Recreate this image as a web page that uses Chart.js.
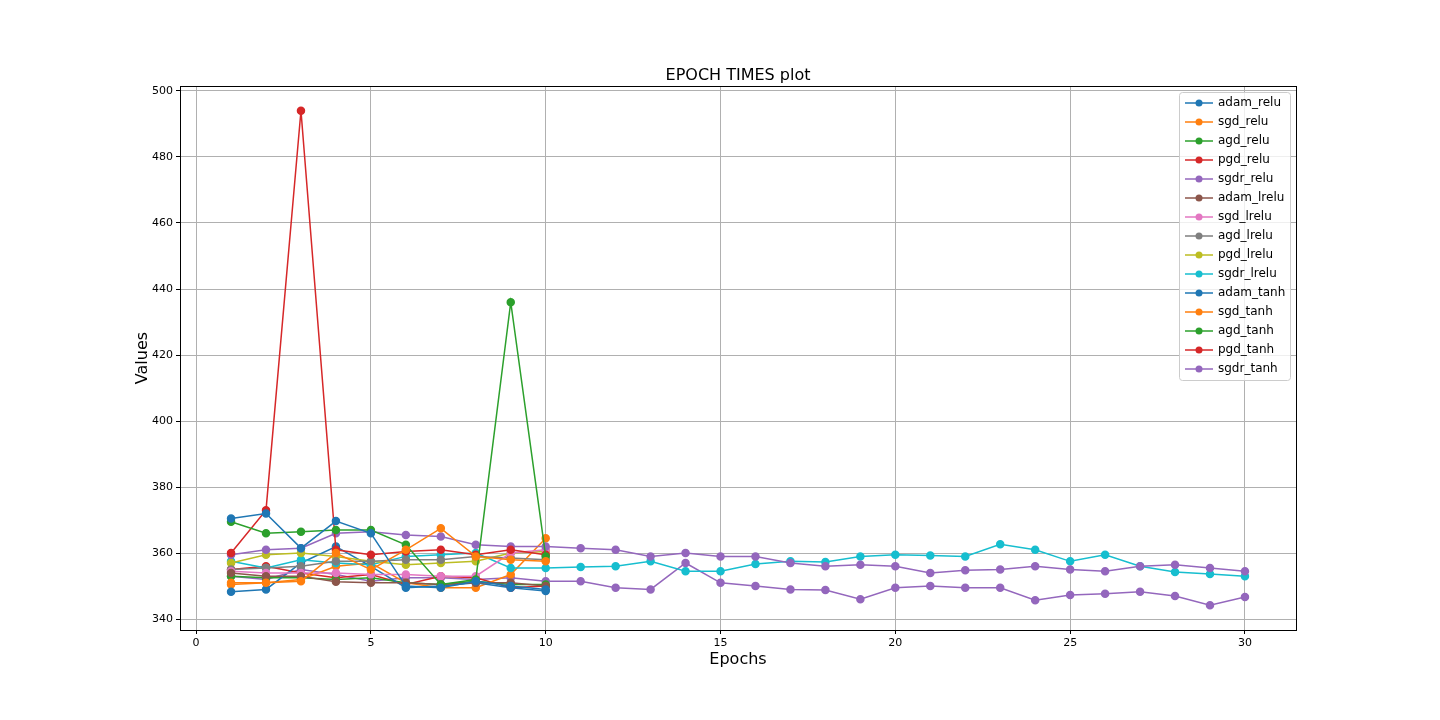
<!DOCTYPE html><html><head><script src="https://cdn.jsdelivr.net/npm/chart.js@4"></script>
<style>body{margin:0;background:#fff}#w{width:1440px;height:720px}</style></head><body><div id="w"><canvas id="c"></canvas></div>
<script>
const adam_relu=[370.5,372,361.5,369.7,366,350,349.5,351.5,350,349];
const sgd_relu=[351,351,351.5,360,355,361,367.5,359,358,357.5];
const agd_relu=[369.5,366,366.5,367,367,362.5,350.5,352,436,359];
const pgd_relu=[360,373,494,361,359.5,360.5,361,359.5,361,359.5];
const sgdr_relu=[359.5,361,361.5,366,366.5,365.5,365,362.5,362,362,361.5,361,359,360,359,359,357,356,356.5,356,354,354.8,355,356,355,354.5,356,356.5,355.5,354.5];
const adam_lrelu=[354,353,353,351.3,351,351,350.5,351,351,350];
const sgd_lrelu=[354.5,354,354,354,353.5,353.5,353,353,360,361];
const agd_lrelu=[355,355.5,356,357.5,357.5,358,358,359,358.5,358];
const pgd_lrelu=[357,359.5,360,359,357.5,356.5,357,357.5,360,360.5];
const sgdr_lrelu=[357.5,355.5,358,357,356.5,359,359.5,360,355.5,355.5,355.8,356,357.5,354.5,354.5,356.7,357.5,357.3,359,359.5,359.3,359,362.7,361,357.5,359.5,356,354.3,353.7,353];
const adam_tanh=[348.3,349,357,362,356,349.5,350,351,349.5,348.5];
const sgd_tanh=[350.5,351,352,356,357,351,349.5,349.5,353.5,364.5];
const agd_tanh=[353,352.5,352.5,352,352.5,351,350.5,351.5,350.5,350.5];
const pgd_tanh=[355,356,354,352.5,353.5,350.5,353,352.5,349.5,350];
const sgdr_tanh=[353,352,355,353.5,351.5,352.5,352.5,352,352.5,351.5,351.5,349.5,349,357,351,350,349,348.8,346,349.5,350,349.5,349.5,345.7,347.3,347.7,348.3,347,344.2,346.7];
const names=['adam_relu','sgd_relu','agd_relu','pgd_relu','sgdr_relu','adam_lrelu','sgd_lrelu','agd_lrelu','pgd_lrelu','sgdr_lrelu','adam_tanh','sgd_tanh','agd_tanh','pgd_tanh','sgdr_tanh'];
const series=[adam_relu,sgd_relu,agd_relu,pgd_relu,sgdr_relu,adam_lrelu,sgd_lrelu,agd_lrelu,pgd_lrelu,sgdr_lrelu,adam_tanh,sgd_tanh,agd_tanh,pgd_tanh,sgdr_tanh];
const colors=['#1f77b4','#ff7f0e','#2ca02c','#d62728','#9467bd','#8c564b','#e377c2','#7f7f7f','#bcbd22','#17becf'];
const datasets=series.map((s,i)=>({label:names[i],data:s.map((v,j)=>({x:j+1,y:v})),borderColor:colors[i%10],backgroundColor:colors[i%10],borderWidth:1.5,pointRadius:3.5,pointHoverRadius:3.5,tension:0}));
const deco={id:'deco',afterDraw(c){const g=c.ctx,a=c.chartArea;g.save();
g.strokeStyle='#000';g.lineWidth=1;g.strokeRect(a.left+0.5,a.top+0.5,a.right-a.left,a.bottom-a.top);
g.fillStyle='#000';g.textAlign='center';g.textBaseline='alphabetic';g.font='16px "DejaVu Sans"';g.fillText('EPOCH TIMES plot',(a.left+a.right)/2,80);
g.fillText('Epochs',(a.left+a.right)/2,664);
g.translate(147,(a.top+a.bottom)/2);g.rotate(-Math.PI/2);g.fillText('Values',0,0);g.restore();
g.save();const lx=1179,ly=92,lw=111,lh=288;g.fillStyle='rgba(255,255,255,0.8)';g.strokeStyle='#ccc';g.beginPath();g.roundRect(lx+.5,ly+.5,lw,lh,3);g.fill();g.stroke();
g.font='12px "DejaVu Sans"';g.textAlign='left';g.textBaseline='middle';
c.data.datasets.forEach((d,i)=>{const y=ly+11+i*19;g.strokeStyle=d.borderColor;g.lineWidth=1.5;g.beginPath();g.moveTo(lx+6,y);g.lineTo(lx+34,y);g.stroke();g.fillStyle=d.borderColor;g.beginPath();g.arc(lx+20,y,3.5,0,Math.PI*2);g.fill();g.fillStyle='#000';g.fillText(d.label,lx+39,y);});g.restore();}};
new Chart(document.getElementById('c'),{type:'line',data:{datasets},plugins:[deco],options:{responsive:true,maintainAspectRatio:false,animation:false,
layout:{padding:{top:86,right:144,left:0,bottom:0}},plugins:{legend:{display:false},title:{display:false},tooltip:{enabled:false}},
scales:{x:{type:'linear',min:-0.46,max:31.46,afterFit:s=>{s.height=90},afterBuildTicks:s=>{s.ticks=[0,5,10,15,20,25,30].map(v=>({value:v}))},grid:{color:'#b0b0b0',drawTicks:true,tickLength:4,tickColor:'#000'},border:{display:false},ticks:{color:'#000',font:{size:11,family:'DejaVu Sans'},maxRotation:0}},
y:{min:336.7,max:501.5,afterFit:s=>{s.width=180},afterBuildTicks:s=>{s.ticks=[340,360,380,400,420,440,460,480,500].map(v=>({value:v}))},grid:{color:'#b0b0b0',tickLength:4,tickColor:'#000'},border:{display:false},ticks:{color:'#000',font:{size:11,family:'DejaVu Sans'}}}}}});
</script></body></html>
